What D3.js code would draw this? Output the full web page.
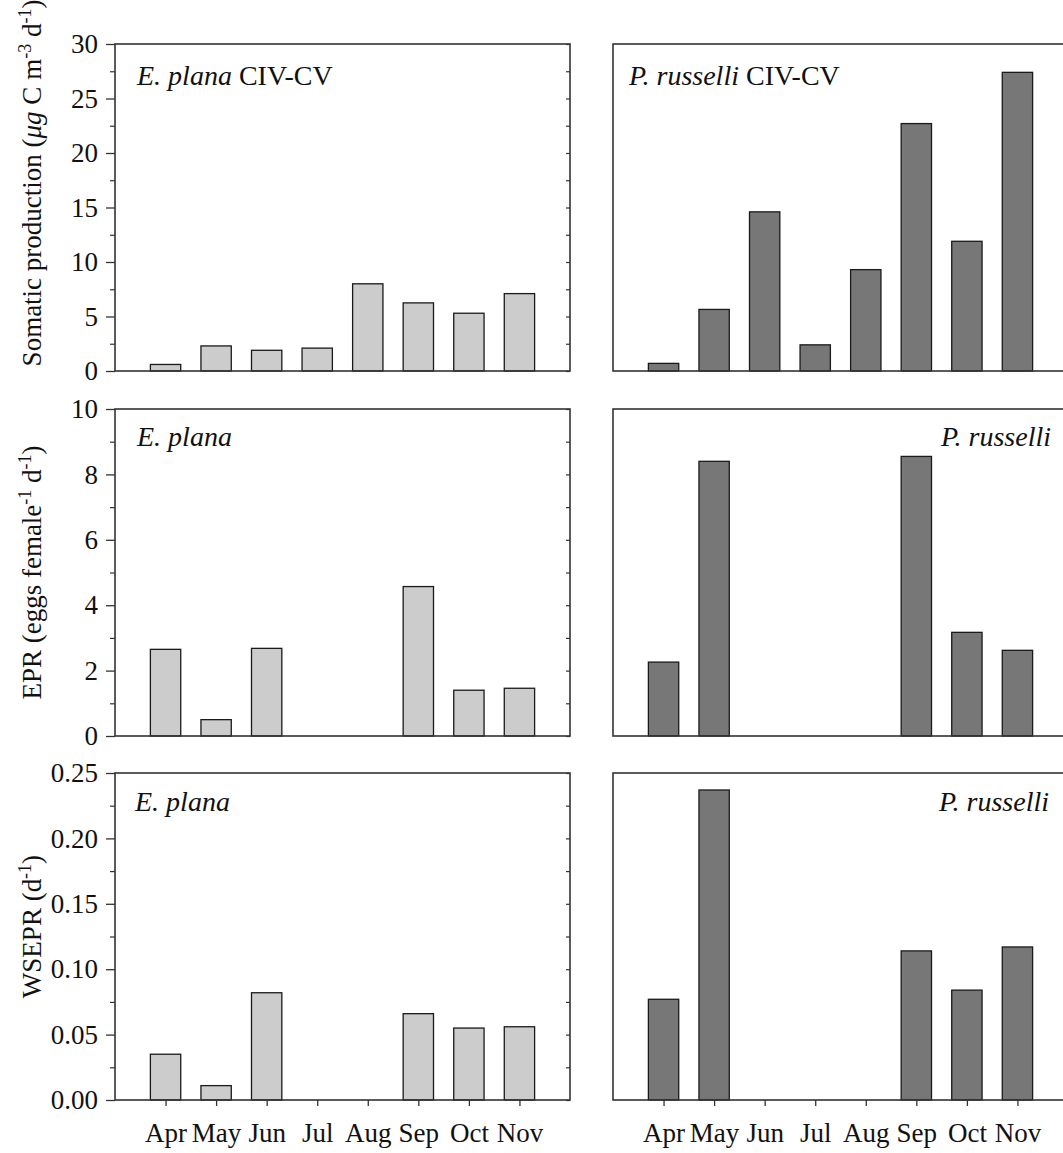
<!DOCTYPE html>
<html>
<head>
<meta charset="utf-8">
<script src="https://cdn.jsdelivr.net/npm/d3@7"></script>
<style>
  html, body { margin: 0; padding: 0; background: #fff; }
  svg { display: block; }
  text { font-family: "Liberation Serif", "Times New Roman", serif; fill: #111; }
</style>
</head>
<body>
<svg id="chart" width="1063" height="1153"></svg>
<script>
// Sampling months
const months = ["Apr", "May", "Jun", "Jul", "Aug", "Sep", "Oct", "Nov"];

// Somatic production of CIV-CV copepodites (µg C m-3 d-1)
const planaSomatic    = [0.6, 2.3, 1.9, 2.1, 8.0, 6.25, 5.3, 7.1];
const russelliSomatic = [0.7, 5.65, 14.6, 2.4, 9.3, 22.7, 11.9, 27.4];

// Egg production rate (eggs female-1 d-1); null = no measurement
const planaEPR    = [2.65, 0.5, 2.68, null, null, 4.57, 1.40, 1.46];
const russelliEPR = [2.26, 8.4, null, null, null, 8.55, 3.17, 2.62];

// Weight-specific egg production rate (d-1)
const planaWSEPR    = [0.035, 0.011, 0.082, null, null, 0.066, 0.055, 0.056];
const russelliWSEPR = [0.077, 0.237, null, null, null, 0.114, 0.084, 0.117];

// Axis ticks
const somaticTicks = [0, 5, 10, 15, 20, 25, 30];
const eprTicks     = [0, 2, 4, 6, 8, 10];
const wseprTicks   = [0, 0.05, 0.10, 0.15, 0.20, 0.25];

const svg = d3.select("#chart");

const panelW = 455, panelH = 327;
const colX = [115, 613];
const rowY = [44, 409, 773];
const lightFill = "#cccccc", darkFill = "#777777";
const frameColor = "#333";

const rows = [
  { max: 30, ticks: somaticTicks, minor: 2.5, fmt: d3.format("d"),
    series: [planaSomatic, russelliSomatic] },
  { max: 10, ticks: eprTicks, minor: 1, fmt: d3.format("d"),
    series: [planaEPR, russelliEPR] },
  { max: 0.25, ticks: wseprTicks, minor: 0.025, fmt: d3.format(".2f"),
    series: [planaWSEPR, russelliWSEPR] }
];

const x = d3.scaleLinear().domain([0, months.length + 1]).range([0, panelW]);
const barW = (x(1) - x(0)) * 0.6;

rows.forEach((row, r) => {
  const y = d3.scaleLinear().domain([0, row.max]).range([panelH, 0]);
  const minorTicks = d3.range(0, row.max + row.minor / 2, row.minor)
    .filter(v => !row.ticks.some(t => Math.abs(t - v) < 1e-9));

  row.series.forEach((vals, c) => {
    const g = svg.append("g")
      .attr("transform", `translate(${colX[c]},${rowY[r]})`);

    // bars
    g.selectAll("rect.bar")
      .data(vals.map((v, i) => ({ v, i })).filter(d => d.v != null))
      .join("rect")
      .attr("class", "bar")
      .attr("x", d => x(d.i + 1) - barW / 2)
      .attr("y", d => y(d.v))
      .attr("width", barW)
      .attr("height", d => y(0) - y(d.v))
      .attr("fill", c === 0 ? lightFill : darkFill)
      .attr("stroke", "#1a1a1a")
      .attr("stroke-width", 1.3);

    // frame
    g.append("rect")
      .attr("width", panelW).attr("height", panelH)
      .attr("fill", "none")
      .attr("stroke", frameColor)
      .attr("stroke-width", 1.6);

    if (c === 0) {
      // left value axis, major + minor ticks
      const ax = g.append("g")
        .call(d3.axisLeft(y).tickValues(row.ticks).tickFormat(row.fmt)
          .tickSize(9).tickPadding(8));
      ax.select(".domain").remove();
      ax.selectAll("line").attr("stroke", frameColor).attr("stroke-width", 1.3);
      ax.selectAll("text")
        .style("font-family", "Liberation Serif, serif")
        .style("font-size", "27px").attr("fill", "#111");

      const mn = g.append("g")
        .call(d3.axisLeft(y).tickValues(minorTicks).tickFormat("").tickSize(5));
      mn.select(".domain").remove();
      mn.selectAll("line").attr("stroke", frameColor).attr("stroke-width", 1.2);

      // mirrored short ticks on the right edge
      const rt = g.append("g")
        .attr("transform", `translate(${panelW},0)`)
        .call(d3.axisLeft(y).tickValues(row.ticks.concat(minorTicks))
          .tickFormat("").tickSize(4));
      rt.select(".domain").remove();
      rt.selectAll("line").attr("stroke", frameColor).attr("stroke-width", 1.2);
    }

    if (r === 2) {
      const bx = g.append("g")
        .attr("transform", `translate(0,${panelH})`)
        .call(d3.axisBottom(x).tickValues(d3.range(1, months.length + 1))
          .tickFormat(i => months[i - 1]).tickSize(6).tickPadding(17));
      bx.select(".domain").remove();
      bx.selectAll("line").attr("stroke", frameColor).attr("stroke-width", 1.3);
      bx.selectAll("text")
        .style("font-family", "Liberation Serif, serif")
        .style("font-size", "27px").attr("fill", "#111");
    }
  });
});

// Panel titles
function title(xp, yp, species, stage, anchor) {
  const t = svg.append("text")
    .attr("x", xp).attr("y", yp)
    .attr("text-anchor", anchor || "start")
    .style("font-size", "28px");
  t.append("tspan").attr("font-style", "italic").text(species);
  if (stage) t.append("tspan").text(" " + stage);
}
title(137, 85, "E. plana", "CIV-CV");
title(629, 85, "P. russelli", "CIV-CV");
title(137, 446, "E. plana");
title(1051, 446, "P. russelli", null, "end");
title(135, 811, "E. plana");
title(1049, 811, "P. russelli", null, "end");

// Y-axis titles (rotated), with superscript exponents
function yTitle(cy, parts) {
  const t = svg.append("text")
    .attr("transform", `translate(41,${cy}) rotate(-90)`)
    .attr("text-anchor", "middle")
    .style("font-size", "27px");
  parts.forEach(p => {
    const s = t.append("tspan").text(p.t);
    if (p.i) s.attr("font-style", "italic");
    if (p.sup) s.attr("font-size", "18px").attr("dy", "-10");
    if (p.down) s.attr("dy", "10");
  });
}
yTitle(183, [
  { t: "Somatic production (" }, { t: "\u03bcg", i: true }, { t: " C m" },
  { t: "-3", sup: true }, { t: " d", down: true }, { t: "-1", sup: true },
  { t: ")", down: true }
]);
yTitle(rowY[1] + panelH / 2, [
  { t: "EPR (eggs female" }, { t: "-1", sup: true }, { t: " d", down: true },
  { t: "-1", sup: true }, { t: ")", down: true }
]);
yTitle(rowY[2] + panelH / 2 - 10, [
  { t: "WSEPR (d" }, { t: "-1", sup: true }, { t: ")", down: true }
]);
</script>
</body>
</html>
